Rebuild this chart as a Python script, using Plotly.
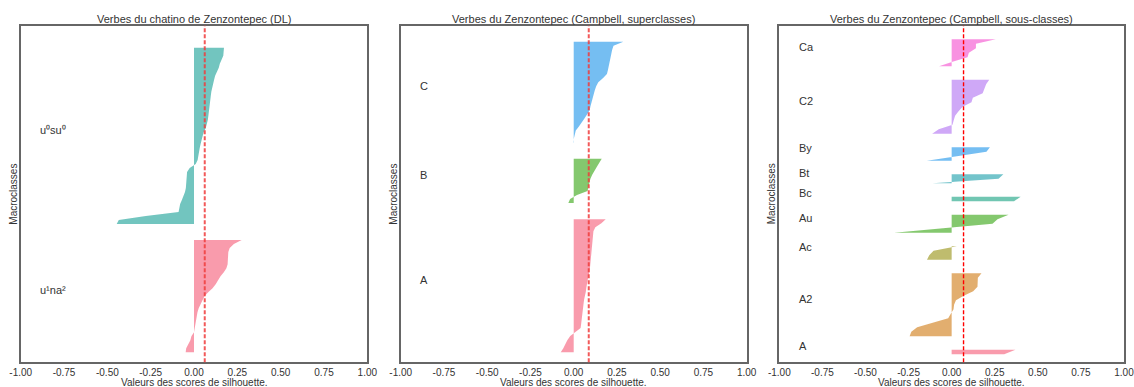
import math
import plotly.graph_objects as go

# ---------------- data ----------------
panel_titles = [
    "Verbes du chatino de Zenzontepec (DL)",
    "Verbes du Zenzontepec (Campbell, superclasses)",
    "Verbes du Zenzontepec (Campbell, sous-classes)",
]
x_title = "Valeurs des scores de silhouette."
y_title = "Macroclasses"

x_tick_vals = [-1.0, -0.75, -0.5, -0.25, 0.0, 0.25, 0.5, 0.75, 1.0]
x_tick_text = ["-1.00", "-0.75", "-0.50", "-0.25", "0.00", "0.25", "0.50", "0.75", "1.00"]

# mean silhouette score of each clustering (red dashed line)
silhouette_avg = [0.062, 0.087, 0.069]

# Panel 1 : DL classes (silhouette values sorted ascending inside each class)
dl_labels = ["u¹na²", "u⁰su⁰"]
dl_u1na2 = [-0.048, -0.045, -0.033, -0.021, -0.015, 0.000, 0.004, 0.007, 0.010, 0.014,
            0.020, 0.027, 0.037, 0.047, 0.060, 0.082, 0.107, 0.125, 0.138, 0.153,
            0.172, 0.187, 0.194, 0.195, 0.196, 0.198, 0.206, 0.230, 0.275]
dl_u0su0 = [-0.446, -0.434, -0.278, -0.089, -0.085, -0.080, -0.070, -0.060, -0.052, -0.047,
            -0.045, -0.044, -0.043, -0.040, -0.025, 0.010, 0.021, 0.024, 0.028, 0.033,
            0.038, 0.043, 0.050, 0.056, 0.068, 0.075, 0.080, 0.083, 0.085, 0.088,
            0.091, 0.094, 0.097, 0.100, 0.104, 0.110, 0.116, 0.122, 0.134, 0.143,
            0.149, 0.160, 0.169, 0.171, 0.173]

# Panel 2 : Campbell superclasses
sup_labels = ["A", "B", "C"]
sup_A = [-0.075, -0.060, -0.048, -0.037, -0.020, 0.010, 0.040, 0.043, 0.045, 0.047,
         0.050, 0.053, 0.057, 0.060, 0.066, 0.070, 0.073, 0.076, 0.080, 0.085,
         0.092, 0.094, 0.097, 0.100, 0.103, 0.105, 0.108, 0.110, 0.112, 0.113,
         0.114, 0.125, 0.160, 0.185]
sup_B = [-0.031, -0.021, 0.019, 0.080, 0.084, 0.088, 0.096, 0.107, 0.119, 0.134, 0.148, 0.162]
sup_C = [-0.002, 0.001, 0.006, 0.012, 0.030, 0.048, 0.062, 0.077, 0.092, 0.097,
         0.103, 0.108, 0.113, 0.122, 0.130, 0.142, 0.170, 0.192, 0.198, 0.202,
         0.207, 0.212, 0.217, 0.222, 0.230, 0.287]

# Panel 3 : Campbell subclasses
sub_labels = ["A", "A2", "Ac", "Au", "Bc", "Bt", "By", "C2", "Ca"]
sub_A = [0.305, 0.370]
sub_A2 = [-0.244, -0.234, -0.200, -0.110, -0.020, -0.005, 0.011, 0.014, 0.025, 0.070,
          0.125, 0.150, 0.150, 0.152, 0.173]
sub_Ac = [-0.143, -0.130, -0.105, 0.030]
sub_Au = [-0.334, -0.050, 0.237, 0.266, 0.330]
sub_Bc = [0.362, 0.400]
sub_Bt = [-0.110, 0.272, 0.300]
sub_By = [-0.144, 0.030, 0.202, 0.222]
sub_C2 = [-0.113, -0.075, 0.005, 0.012, 0.020, 0.040, 0.064, 0.115, 0.123, 0.180,
          0.189, 0.200, 0.218]
sub_Ca = [-0.073, 0.005, 0.092, 0.100, 0.141, 0.141, 0.256]

# ---------------- husl palette (as seaborn) ----------------
_M = [[3.2406, -1.5372, -0.4986], [-0.9689, 1.8758, 0.0415], [0.0557, -0.2040, 1.0570]]
_REF_U, _REF_V, _LAB_E, _LAB_K = 0.19784, 0.46834, 0.008856, 903.3


def _max_chroma(L, H):
    hrad = math.radians(H)
    sinH, cosH = math.sin(hrad), math.cos(hrad)
    sub1 = (L + 16) ** 3 / 1560896.0
    sub2 = sub1 if sub1 > _LAB_E else L / _LAB_K
    result = float("inf")
    for m1, m2, m3 in _M:
        top = (0.99915 * m1 + 1.05122 * m2 + 1.14460 * m3) * sub2
        rbottom = 0.86330 * m3 - 0.17266 * m2
        lbottom = 0.12949 * m3 - 0.38848 * m1
        bottom = (rbottom * sinH + lbottom * cosH) * sub2
        for t in (0.0, 1.0):
            C = L * (top - 1.05122 * t) / (bottom + 0.17266 * sinH * t)
            if 0 < C < result:
                result = C
    return result


def _from_linear(c):
    return 12.92 * c if c <= 0.0031308 else 1.055 * c ** (1 / 2.4) - 0.055


def husl_to_rgb(H, S, L):
    C = _max_chroma(L, H) / 100.0 * S
    hrad = math.radians(H)
    U, V = math.cos(hrad) * C, math.sin(hrad) * C
    t = (L + 16) / 116.0
    varY = t ** 3 if t ** 3 > _LAB_E else L / _LAB_K
    varU = U / (13 * L) + _REF_U
    varV = V / (13 * L) + _REF_V
    Y = varY
    X = -(9 * Y * varU) / ((varU - 4) * varV - varU * varV)
    Z = (9 * Y - 15 * varV * Y - varV * X) / (3 * varV)
    rgb = [_from_linear(r[0] * X + r[1] * Y + r[2] * Z) for r in _M]
    return [min(max(c, 0.0), 1.0) for c in rgb]


def husl_palette(n, h=0.01, s=0.9, l=0.65):
    return [husl_to_rgb(((i / n + h) % 1) * 359, s * 99, l * 99) for i in range(n)]


# ---------------- figure ----------------
W, H = 1134, 387
FONT = "Arial, Liberation Sans, sans-serif"
TXT = "#333333"
SPINE = "#666666"
y_dom = [(H - 362.3) / H, (H - 25.7) / H]

panels = [
    dict(labels=dl_labels, values=[dl_u1na2, dl_u0su0], gap=4, yrange=[-2.5, 81.5],
         xpx=(20.7, 367.3), lw=2.0, lc="rgba(240,60,60,0.85)"),
    dict(labels=sup_labels, values=[sup_A, sup_B, sup_C], gap=4, yrange=[-2.5, 81.0],
         xpx=(400.7, 746.7), lw=2.0, lc="rgba(240,60,60,0.85)"),
    dict(labels=sub_labels,
         values=[sub_A, sub_A2, sub_Ac, sub_Au, sub_Bc, sub_Bt, sub_By, sub_C2, sub_Ca],
         gap=3, yrange=[-1.78, 73.0], xpx=(779.3, 1124.0), lw=1.4, lc="red"),
]

fig = go.Figure()
annotations = []
shapes = []
layout = {}

for pi, p in enumerate(panels):
    sfx = "" if pi == 0 else str(pi + 1)
    xa, ya = "x" + sfx, "y" + sfx
    colors = husl_palette(len(p["labels"]))
    y_lower = 0
    for ci, (lab, vals) in enumerate(zip(p["labels"], p["values"])):
        n = len(vals)
        ys = [y_lower + k for k in range(n)]
        r, g, b = colors[ci]
        col = f"rgba({round(r*255)},{round(g*255)},{round(b*255)},0.7)"
        fig.add_trace(go.Scatter(
            x=[0] + list(vals) + [0], y=[ys[0]] + ys + [ys[-1]],
            fill="toself", fillcolor=col, mode="lines", line=dict(width=0, color=col),
            xaxis=xa, yaxis=ya, hoverinfo="skip", showlegend=False))
        annotations.append(dict(
            x=-0.9, y=y_lower + (n - 1) / 2, xref=xa, yref=ya, text=lab, showarrow=False,
            xanchor="left", yanchor="middle", yshift=6,
            font=dict(family=FONT, size=11, color=TXT)))
        y_lower += n - 1 + p["gap"]

    shapes.append(dict(type="line", xref=xa, yref=ya + " domain",
                       x0=silhouette_avg[pi], x1=silhouette_avg[pi], y0=0, y1=1,
                       line=dict(color=p["lc"], width=p["lw"], dash="4px,2px"), layer="above"))

    layout["xaxis" + sfx] = dict(
        domain=[p["xpx"][0] / W, p["xpx"][1] / W], range=[-1, 1], anchor=ya,
        tickmode="array", tickvals=x_tick_vals, ticktext=x_tick_text,
        showgrid=False, zeroline=False, showline=True, mirror=True, automargin=False,
        linecolor=SPINE, linewidth=1.6, ticks="", ticklabeloverflow="allow",
        tickfont=dict(family=FONT, size=10, color=TXT))
    layout["yaxis" + sfx] = dict(
        domain=y_dom, range=p["yrange"], anchor=xa, showticklabels=False,
        showgrid=False, zeroline=False, showline=True, mirror=True, automargin=False,
        linecolor=SPINE, linewidth=1.6, ticks="")

    annotations.append(dict(x=0.5, y=1, xref=xa + " domain", yref=ya + " domain",
                            text=panel_titles[pi], showarrow=False, xanchor="center",
                            yanchor="bottom", yshift=-1,
                            font=dict(family=FONT, size=11, color=TXT)))
    annotations.append(dict(x=0.5, y=0, xref=xa + " domain", yref=ya + " domain",
                            text=x_title, showarrow=False, xanchor="center",
                            yanchor="middle", yshift=-20,
                            font=dict(family=FONT, size=10, color=TXT)))
    annotations.append(dict(x=0, y=0.5, xref=xa + " domain", yref=ya + " domain",
                            text=y_title, showarrow=False, textangle=-90,
                            xanchor="center", yanchor="middle", xshift=-8,
                            font=dict(family=FONT, size=10, color=TXT)))

fig.update_layout(
    width=W, height=H, margin=dict(l=0, r=0, t=0, b=0, autoexpand=False),
    paper_bgcolor="white", plot_bgcolor="white",
    annotations=annotations, shapes=shapes, showlegend=False,
    **layout)

fig.write_html("out.html", config={"displayModeBar": False},
               post_script="document.body.style.margin='0px';")
